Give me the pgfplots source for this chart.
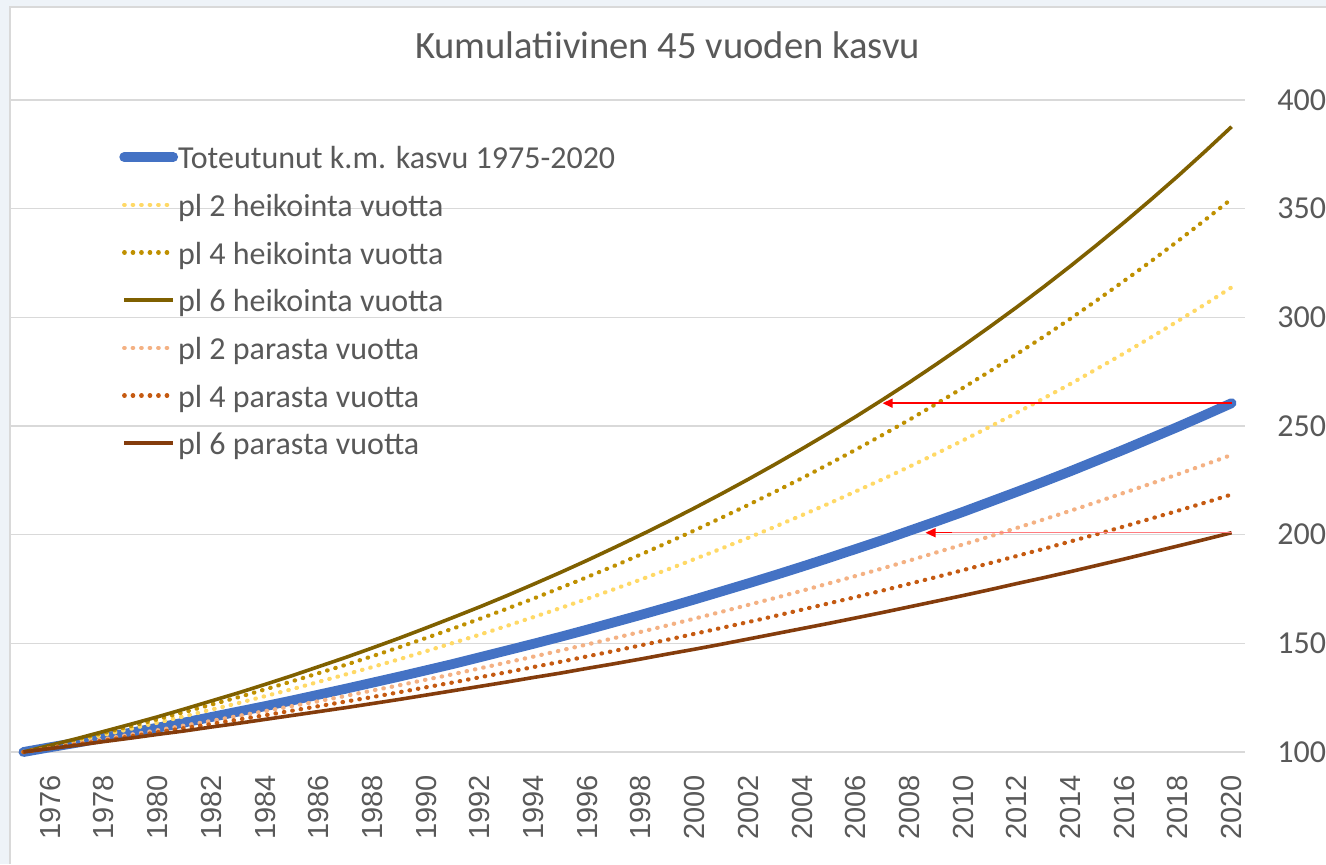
\documentclass[border=0pt]{standalone}
\usepackage{pgfplots}
\pgfplotsset{compat=1.18}
\usepackage{pgfplotstable}
\usepackage{fontspec}
\setmainfont{Carlito}
\newfontfamily\arialf{Liberation Sans}
\usetikzlibrary{arrows.meta}
\definecolor{txt}{HTML}{595959}
\definecolor{gridc}{HTML}{D9D9D9}
\definecolor{bgc}{HTML}{EEF3F8}
\definecolor{cblue}{HTML}{4472C4}
\definecolor{ch2}{HTML}{FFD966}
\definecolor{ch4}{HTML}{BF9000}
\definecolor{ch6}{HTML}{7F6000}
\definecolor{cp2}{HTML}{F4B183}
\definecolor{cp4}{HTML}{C55A11}
\definecolor{cp6}{HTML}{843C0C}
\definecolor{arrred}{HTML}{FF0000}
\definecolor{arrpink}{HTML}{FF7C80}

\pgfplotstableread{
year tot h2 h4 h6 p2 p4 p6
1975 100.0 100.0 100.0 100.0 100.0 100.0 100.0
1976 102.2 102.6 102.9 103.1 101.9 101.8 101.6
1977 104.3 105.2 105.8 106.2 103.9 103.5 103.1
1978 106.6 107.9 108.8 109.5 105.9 105.3 104.8
1979 108.9 110.7 111.9 112.8 108.0 107.2 106.4
1980 111.2 113.5 115.1 116.2 110.0 109.1 108.1
1981 113.6 116.5 118.4 119.8 112.2 111.0 109.7
1982 116.1 119.5 121.8 123.5 114.3 112.9 111.5
1983 118.6 122.5 125.2 127.2 116.6 114.9 113.2
1984 121.1 125.7 128.8 131.1 118.8 116.9 115.0
1985 123.7 128.9 132.5 135.1 121.1 119.0 116.8
1986 126.4 132.3 136.3 139.3 123.4 121.1 118.6
1987 129.1 135.7 140.1 143.5 125.8 123.2 120.4
1988 131.9 139.1 144.1 147.9 128.3 125.3 122.3
1989 134.7 142.7 148.2 152.4 130.7 127.5 124.2
1990 137.6 146.4 152.5 157.1 133.3 129.8 126.2
1991 140.5 150.2 156.8 161.9 135.8 132.0 128.2
1992 143.6 154.0 161.3 166.8 138.5 134.4 130.2
1993 146.7 158.0 165.9 171.9 141.2 136.7 132.2
1994 149.8 162.1 170.6 177.2 143.9 139.1 134.3
1995 153.0 166.2 175.5 182.6 146.7 141.5 136.3
1996 156.3 170.5 180.5 188.2 149.5 144.0 138.5
1997 159.7 174.9 185.6 194.0 152.4 146.5 140.6
1998 163.1 179.4 190.9 199.9 155.3 149.1 142.8
1999 166.6 184.0 196.4 206.0 158.3 151.7 145.1
2000 170.2 188.8 202.0 212.3 161.4 154.4 147.3
2001 173.9 193.6 207.8 218.8 164.5 157.1 149.6
2002 177.6 198.6 213.7 225.5 167.7 159.8 152.0
2003 181.4 203.7 219.8 232.4 170.9 162.6 154.4
2004 185.3 209.0 226.0 239.5 174.2 165.5 156.8
2005 189.3 214.3 232.5 246.8 177.6 168.4 159.2
2006 193.4 219.9 239.1 254.3 181.0 171.3 161.7
2007 197.5 225.5 245.9 262.1 184.5 174.3 164.2
2008 201.8 231.3 252.9 270.1 188.1 177.4 166.8
2009 206.1 237.3 260.2 278.4 191.8 180.5 169.4
2010 210.5 243.4 267.6 286.9 195.5 183.7 172.0
2011 215.1 249.7 275.2 295.7 199.2 186.9 174.7
2012 219.7 256.1 283.1 304.7 203.1 190.2 177.5
2013 224.4 262.7 291.1 314.0 207.0 193.5 180.2
2014 229.2 269.4 299.4 323.6 211.0 196.9 183.0
2015 234.2 276.4 308.0 333.5 215.1 200.3 185.9
2016 239.2 283.5 316.8 343.7 219.3 203.8 188.8
2017 244.4 290.8 325.8 354.2 223.5 207.4 191.8
2018 249.6 298.3 335.1 365.0 227.8 211.0 194.8
2019 255.0 305.9 344.7 376.2 232.2 214.7 197.8
2020 260.5 313.8 354.5 387.7 236.7 218.5 200.9
}\datatable

\pgfplotstableread{
x y
2020 260.5
2008.0 260.5
}\arrowA
\pgfplotstableread{
x y
2020 200.9
2009.5 200.9
}\arrowB

\begin{document}
\begin{tikzpicture}[x=1pt,y=1pt]
\fill[bgc] (0,0) rectangle (663,432);
\fill[white] (5,0) rectangle (663,428.5);
\draw[gridc, line width=0.6pt] (5,0) -- (5,428.5) -- (663,428.5);
\node[anchor=base, font=\fontsize{19.3}{19.3}\selectfont, text=txt] at (333.75,402.75) {Kumulatiivinen 45 vuoden kasvu};
\begin{axis}[
  at={(5pt,56pt)}, anchor=south west,
  scale only axis, width=617.5pt, height=326pt,
  xmin=1974.5, xmax=2020.5, ymin=100, ymax=400,
  clip=false,
  axis line style={draw=none},
  tick style={draw=none},
  ytick={100,150,...,400},
  xtick={1976,1978,...,2020},
  ymajorgrids,
  major grid style={gridc, line width=0.7pt},
  yticklabel pos=right,
  /pgf/number format/1000 sep={},
  /pgf/number format/assume math mode=true,
  yticklabel style={anchor=west, inner sep=0pt, font=\fontsize{16}{16}\selectfont, text=txt},
  yticklabel shift=16pt,
  xticklabel style={rotate=90, anchor=east, inner sep=0pt, font=\arialf\fontsize{14.5}{14.5}\selectfont, text=txt},
  xticklabel shift=11.5pt,
  legend cell align=left,
  legend style={at={(0.0885,0.9475)}, anchor=north west, draw=none, fill=none,
    inner sep=0pt, outer sep=0pt, row sep=0pt,
    font=\fontsize{16}{16}\selectfont, text=txt,
    nodes={inner sep=0pt, text height=17.2pt, text depth=6.65pt}},
  legend image code/.code={\draw[#1] (0pt,0.5pt) -- (24.5pt,0.5pt);},
  /tikz/every odd column/.append style={column sep=0pt},
  dotline/.style={line width=2.1pt, line cap=round, dash pattern=on 0.25pt off 4.0pt},
]
\addplot[cblue, line width=4.9pt, line cap=round, line join=round] table[x=year,y=tot] {\datatable};
\addlegendentry{Toteutunut k.m. kasvu 1975-2020}
\addplot[ch2, dotline] table[x=year,y=h2] {\datatable};
\addlegendentry{pl 2 heikointa vuotta}
\addplot[ch4, dotline] table[x=year,y=h4] {\datatable};
\addlegendentry{pl 4 heikointa vuotta}
\addplot[ch6, line width=1.8pt, line join=round] table[x=year,y=h6] {\datatable};
\addlegendentry{pl 6 heikointa vuotta}
\addplot[cp2, dotline] table[x=year,y=p2] {\datatable};
\addlegendentry{pl 2 parasta vuotta}
\addplot[cp4, dotline] table[x=year,y=p4] {\datatable};
\addlegendentry{pl 4 parasta vuotta}
\addplot[cp6, line width=1.8pt, line join=round] table[x=year,y=p6] {\datatable};
\addlegendentry{pl 6 parasta vuotta}
% arrow shafts
\addplot[arrred, line width=0.7pt, forget plot] table[x=x,y=y] {\arrowA};
\addplot[arrpink, line width=0.7pt, forget plot] table[x=x,y=y] {\arrowB};
% arrow heads
\addplot[arrred, line width=0.7pt, -{Triangle[length=5pt,width=4.5pt]}, forget plot] coordinates {(2008.1,260.5) (2007.0,260.5)};
\addplot[arrred, line width=0.7pt, -{Triangle[length=5pt,width=4.5pt]}, forget plot] coordinates {(2009.6,200.9) (2008.6,200.9)};
\end{axis}
\pgfresetboundingbox
\path (0,0) rectangle (663,432);
\end{tikzpicture}
\end{document}
